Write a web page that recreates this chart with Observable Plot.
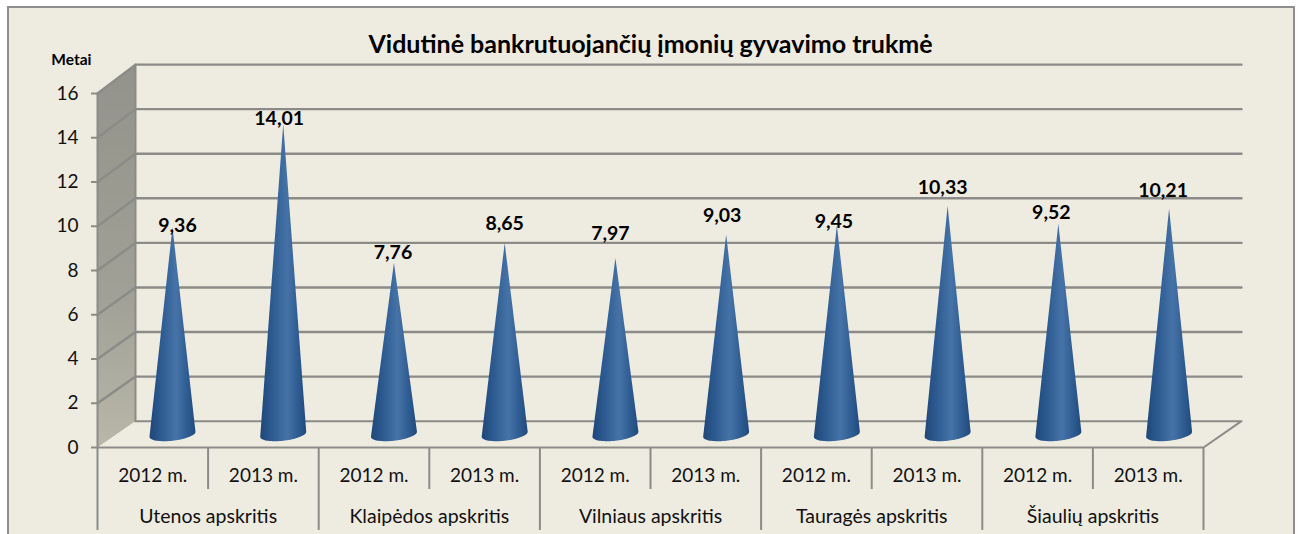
<!DOCTYPE html>
<html lang="lt">
<head>
<meta charset="utf-8">
<title>Vidutinė bankrutuojančių įmonių gyvavimo trukmė</title>
<script src="https://cdn.jsdelivr.net/npm/d3@7"></script>
<script src="https://cdn.jsdelivr.net/npm/@observablehq/plot@0.6"></script>
<style>
  html, body { margin: 0; padding: 0; background: #fff; overflow: hidden; }
  #stage { position: relative; width: 1299px; height: 534px; overflow: hidden; }
  #panel { position: absolute; left: 7px; top: 6px; width: 1284px; height: 600px;
           background: #eeebe0; border: 2px solid #8e8e8e; }
  #chart { position: absolute; left: 0; top: 0; }
  #chart svg { display: block; }
</style>
</head>
<body>
<div id="stage"><div id="panel"></div><div id="chart"></div></div>
<script>
const regions = ["Utenos apskritis", "Klaipėdos apskritis", "Vilniaus apskritis", "Tauragės apskritis", "Šiaulių apskritis"];
const years = ["2012 m.", "2013 m."];
const values = [9.36, 14.01, 7.76, 8.65, 7.97, 9.03, 9.45, 10.33, 9.52, 10.21];
const valueLabels = ["9,36", "14,01", "7,76", "8,65", "7,97", "9,03", "9,45", "10,33", "9,52", "10,21"];
const yTicks = [0, 2, 4, 6, 8, 10, 12, 14, 16];
const labelNudgeX = [5, -4, -1, 0, -5, -4, -3, -5, -7, -6];
const labelNudgeY = [-1, -6, -10, -19, -24, -19, -4, -18, -11, -18];

const font = "Lato, 'Open Sans', sans-serif";
const gridColor = "#8b8b87";

// Oblique depth projection, in data units: depth 0 is the front plane, 1 the back wall.
const depthX = 0.3436;
const depthY = v => 1.19 + v * 0.0073;
const at = (i, v, d) => ({x: i + d * depthX, y: v + d * depthY(v)});

// Left wall, floor and grid lines
const wall = [at(0, 0, 0), at(0, 16, 0), at(0, 16, 1), at(0, 0, 1)];
const floor = [at(0, 0, 0), at(10, 0, 0), at(10, 0, 1), at(0, 0, 1)];
const grid = yTicks.flatMap(v => [at(0, v, 0), at(0, v, 1), at(10, v, 1)].map(p => ({...p, tick: v})));

// Cones: tip plus the visible lower half of a slightly tilted base ellipse
const coneHalfWidth = 0.208, coneMinor = 0.29, coneTilt = 0.113;
const coneX = i => i * 1.0012 + 0.678;
const coneBase = 0.595;
const cones = values.flatMap((v, i) => {
  const pts = [{x: coneX(i), y: coneBase + v, id: i}];
  for (let k = 0; k <= 40; ++k) {
    const t = Math.PI * k / 40;
    pts.push({
      x: coneX(i) + coneHalfWidth * Math.cos(t),
      y: coneBase + coneTilt * Math.cos(t) - coneMinor * Math.sin(t),
      id: i
    });
  }
  return pts;
});

const defs = () => d3.create("svg:defs").html(`
  <linearGradient id="coneFill" x1="0" x2="1" y1="0" y2="0">
    <stop offset="0" stop-color="#1f4778"/>
    <stop offset="0.25" stop-color="#2c5a90"/>
    <stop offset="0.58" stop-color="#4673a7"/>
    <stop offset="0.82" stop-color="#2e5c92"/>
    <stop offset="1" stop-color="#204a7c"/>
  </linearGradient>
  <linearGradient id="wallFill" x1="0" x2="0" y1="0" y2="1">
    <stop offset="0" stop-color="#93938b"/>
    <stop offset="0.6" stop-color="#a0a096"/>
    <stop offset="1" stop-color="#b8b7a9"/>
  </linearGradient>`).node();

const plot = Plot.plot({
  width: 1299,
  height: 534,
  marginLeft: 97,
  marginRight: 96,
  marginTop: 93,
  marginBottom: 87,
  style: {background: "transparent", fontFamily: font, overflow: "visible"},
  x: {domain: [0, 10], axis: null},
  y: {domain: [0, 16]},
  marks: [
    defs,
    Plot.line(wall, {x: "x", y: "y", fill: "url(#wallFill)", stroke: "none"}),
    Plot.line(floor, {x: "x", y: "y", fill: "#eeebe0", stroke: gridColor, strokeWidth: 2}),
    Plot.line(grid.filter(d => d.tick > 0), {x: "x", y: "y", z: "tick", stroke: gridColor, strokeWidth: 2.4}),
    Plot.line([at(0, 0, 1), at(0, 16, 1)], {x: "x", y: "y", stroke: gridColor, strokeWidth: 2}),
    Plot.line([at(0, 0, 0), at(0, 16, 0)], {x: "x", y: "y", stroke: gridColor, strokeWidth: 2}),
    Plot.line(cones, {x: "x", y: "y", z: "id", fill: "url(#coneFill)", stroke: "none"}),
    Plot.axisY({ticks: yTicks, tickSize: 6, tickPadding: 13, fontSize: 19, label: null, stroke: gridColor, strokeWidth: 2, fill: "#111"}),
    // hierarchical category axis
    Plot.ruleX(d3.range(1, 10, 2), {x: d => d, y1: 0, y2: -1.9, stroke: gridColor, strokeWidth: 2}),
    Plot.ruleX(d3.range(0, 11, 2), {x: d => d, y1: 0, y2: -3.75, stroke: gridColor, strokeWidth: 2}),
    Plot.text(values, {x: (d, i) => i + 0.5, y: 0, dy: 28, text: (d, i) => years[i % 2], fontSize: 19, fill: "#111"}),
    Plot.text(regions, {x: (d, i) => 2 * i + 1, y: 0, dy: 69, text: d => d, fontSize: 19.5, fill: "#111"}),
    // value labels, each hand-placed in the original
    ...values.map((v, i) => Plot.text([v], {
      x: coneX(i), y: coneBase + v, text: () => valueLabels[i],
      dx: labelNudgeX[i], dy: labelNudgeY[i],
      fontSize: 19.5, fontWeight: 700, fill: "#000"
    })),
    Plot.text(["Vidutinė bankrutuojančių įmonių gyvavimo trukmė"], {
      frameAnchor: "top", text: d => d, dy: -58, fontSize: 25, fontWeight: 700, fill: "#000"
    }),
    Plot.text(["Metai"], {
      frameAnchor: "top-left", text: d => d, textAnchor: "end", dx: -6, dy: -40, fontSize: 15.5, fontWeight: 700, fill: "#000"
    })
  ]
});
document.getElementById("chart").append(plot);
</script>
</body>
</html>
